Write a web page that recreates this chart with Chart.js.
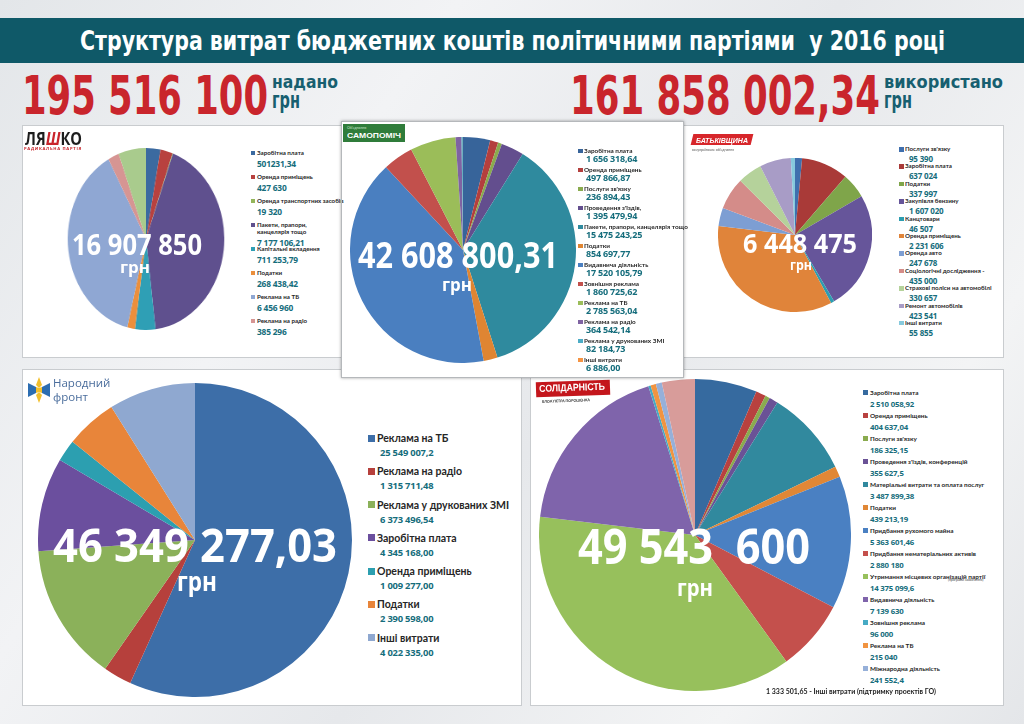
<!DOCTYPE html>
<html lang="uk">
<head>
<meta charset="utf-8">
<title>Структура витрат бюджетних коштів політичними партіями у 2016 році</title>
<script src="https://cdn.jsdelivr.net/npm/chart.js@4.4.1/dist/chart.umd.min.js"></script>
<style>
  html, body { margin: 0; padding: 0; }
  body { width: 1024px; height: 724px; overflow: hidden; }
  #page {
    position: relative; width: 1024px; height: 724px; overflow: hidden;
    background: linear-gradient(125deg, #e3e6e9 0%, #f2f3f5 30%, #e6e8eb 55%, #f3f4f5 80%, #e4e6e9 100%);
    font-family: Lato, "Open Sans", sans-serif;
  }
  .abs { position: absolute; }
  .fit { position: absolute; display: inline-block; white-space: pre; transform-origin: 0 0; line-height: 1; }
  .narrow { font-family: "Liberation Sans Narrow", "DejaVu Sans Condensed", sans-serif; font-weight: 700; }
  .big { font-family: "Open Sans", Lato, sans-serif; font-weight: 700; color: #fff; z-index: 5; }
  .bar { position: absolute; left: 0; top: 18px; width: 1024px; height: 45px; background: #0f5968; }
  .panel { position: absolute; background: #fff; border: 1px solid #c9cccf; box-sizing: border-box; }
  canvas { position: absolute; z-index: 3; }
  .legend { position: absolute; z-index: 4; }
  .legend .item { position: relative; }
  .legend .sw { position: absolute; left: 0; }
  .legend .lab { font-weight: 700; color: #262626; white-space: pre; }
  .legend .val { font-family: "Open Sans", Lato, sans-serif; font-weight: 700; color: #156d7c; white-space: pre; letter-spacing: -0.2px; }
</style>
</head>
<body>
<div id="page">
  <div class="bar"></div>
  <span class="fit narrow" id="title" data-w="865" style="left:80px; top:27px; font-size:27px; color:#fff;">Структура витрат бюджетних коштів політичними партіями  у 2016 році</span>

  <span class="fit narrow" id="given" data-w="246" style="left:22px; top:69px; font-size:53px; color:#c9252c;"></span>
  <span class="fit narrow" data-w="66" style="left:272px; top:73px; font-size:18px; color:#175f70;">надано</span>
  <span class="fit narrow" data-w="28" style="left:272px; top:89px; font-size:23px; color:#175f70;">грн</span>

  <span class="fit narrow" id="used" data-w="310" style="left:570px; top:69px; font-size:53px; color:#c9252c;"></span>
  <span class="fit narrow" data-w="119" style="left:884px; top:73px; font-size:18px; color:#175f70;">використано</span>
  <span class="fit narrow" data-w="28" style="left:884px; top:89px; font-size:23px; color:#175f70;">грн</span>

  <!-- panels -->
  <div class="panel" style="left:22px; top:125px; width:322px; height:233px; z-index:1;"></div>
  <div class="panel" style="left:683px; top:125px; width:321px; height:233px; z-index:1;"></div>
  <div class="panel" style="left:341px; top:121px; width:343px; height:257px; z-index:6; box-shadow: 0 0 3px rgba(0,0,0,0.35); background: transparent; border-color:#b5b8bb;"></div>
  <div class="abs" style="left:341px; top:121px; width:343px; height:257px; z-index:2; background:#fff;"></div>
  <div class="panel" style="left:22px; top:369px; width:500px; height:337px; z-index:1;"></div>
  <div class="panel" style="left:530px; top:369px; width:474px; height:337px; z-index:1;"></div>

  <!-- logos -->
  <span class="fit" data-w="57" style="left:25px; top:127px; z-index:5; font:700 17px 'Open Sans', sans-serif; color:#1d1d1d;">ЛЯ<span style="color:#c9252c; font-style:italic;">Ш</span>КО</span>
  <span class="fit" data-w="58" style="left:24px; top:146px; z-index:5; font:700 3.6px 'Open Sans', sans-serif; color:#c9252c; letter-spacing:0.6px;">РАДИКАЛЬНА ПАРТІЯ</span>

  <div class="abs" style="left:343px; top:124px; width:62px; height:18px; z-index:5; background:#2f7c3a;">
    <div style="position:absolute; left:4px; top:1px; font:400 3.6px Lato, sans-serif; color:#cfe8cf;">Об'єднання</div>
    <span class="fit" data-w="54" style="left:4px; top:7px; font:700 8px 'Liberation Sans Narrow', sans-serif; color:#fff;">САМОПОМІЧ</span>
  </div>

  <div class="abs" style="left:692px; top:134px; width:60px; height:11px; z-index:5; background:#d7262b; transform:skewX(-14deg);"></div>
  <span class="fit" data-w="52" style="left:696px; top:136px; z-index:5; font:italic 700 7.5px 'Liberation Sans Narrow', sans-serif; color:#fff;">БАТЬКІВЩИНА</span>
  <div class="abs" style="left:692px; top:147px; z-index:5; font:400 3.6px Lato, sans-serif; color:#555;">всеукраїнське об'єднання</div>

  <svg class="abs" style="left:27px; top:375px; z-index:5;" width="24" height="30" viewBox="0 0 24 30">
    <path d="M12 2 L15 10 L12 13 L9 10 Z" fill="#f2bf2c"/>
    <path d="M12 28 L15 20 L12 17 L9 20 Z" fill="#f2bf2c"/>
    <path d="M1 8 L9 12 L9 18 L1 22 Z" fill="#2c6db1"/>
    <path d="M23 8 L15 12 L15 18 L23 22 Z" fill="#2c6db1"/>
    <path d="M9 12 L12 13 L15 12 L15 18 L12 17 L9 18 Z" fill="#f2bf2c"/>
  </svg>
  <div class="abs" style="left:53px; top:376px; z-index:5; font:400 11.5px 'Open Sans', sans-serif; color:#4a6d9c; line-height:14px;">Народний<br>фронт</div>

  <div class="abs" style="left:536px; top:381px; width:74px; height:15px; z-index:5; background:#c4161c; transform:rotate(-2deg);"></div>
  <div class="abs" style="left:539px; top:382px; z-index:5; transform:rotate(-2deg);">
    <span class="fit" data-w="66" style="left:0; top:1px; font:700 10px 'Liberation Sans Narrow', sans-serif; color:#fff;">СОЛІДАРНІСТЬ</span>
  </div>
  <div class="abs" style="left:542px; top:398px; z-index:5; font:700 3.6px Lato, sans-serif; color:#222; transform:rotate(-2deg);">БЛОК ПЕТРА ПОРОШЕНКА</div>

  <!-- pies -->
  <div class="abs" style="left:55px; top:148px; width:182px; height:182px; z-index:3; transform:scaleX(0.86); transform-origin:50% 50%;">
    <canvas id="pieLyashko" width="182" height="182" style="left:0; top:0;"></canvas>
  </div>
  <canvas id="pieSamopomich" width="226" height="226" style="left:350px; top:137px;"></canvas>
  <canvas id="pieBatk" width="154" height="154" style="left:718px; top:158px;"></canvas>
  <canvas id="pieNF" width="314" height="314" style="left:38px; top:383px;"></canvas>
  <canvas id="pieSol" width="312" height="312" style="left:539px; top:379px;"></canvas>

  <!-- totals over pies -->
  <span class="fit big" id="totLyashko" data-w="130" style="left:72px; top:229px; font-size:29px;"></span>
  <span class="fit big" data-w="30" style="left:120px; top:259px; font-size:16px;">грн</span>
  <span class="fit big" id="totSamopomich" data-w="200" style="left:358px; top:237px; font-size:36px; z-index:7;"></span>
  <span class="fit big" data-w="30" style="left:442px; top:275px; font-size:18px; z-index:7;">грн</span>
  <span class="fit big" id="totBatk" data-w="114" style="left:743px; top:230px; font-size:26px;"></span>
  <span class="fit big" data-w="22" style="left:790px; top:257px; font-size:15px;">грн</span>
  <span class="fit big" id="totNF" data-w="284" style="left:53px; top:521px; font-size:47px;"></span>
  <span class="fit big" data-w="40" style="left:177px; top:568px; font-size:26px;">грн</span>
  <span class="fit big" id="totSol" data-w="232" style="left:578px; top:521px; font-size:49px;"></span>
  <span class="fit big" data-w="36" style="left:677px; top:575px; font-size:24px;">грн</span>

  <!-- legends -->
  <div class="legend" id="legLyashko" style="left:251px; top:149px;"></div>
  <div class="legend" id="legSamopomich" style="left:578px; top:147px; z-index:7;"></div>
  <div class="legend" id="legBatk" style="left:899px; top:146px;"></div>
  <div class="legend" id="legNF" style="left:368px; top:432px;"></div>
  <div class="legend" id="legSol" style="left:863px; top:389px;"></div>

  <div class="abs" style="left:948px; top:578px; z-index:5; font:400 3.4px Lato, sans-serif; color:#444;">(програми заохочення)</div>
  <div class="abs" id="solNote" style="left:766px; top:687px; z-index:5; font:700 7px Lato, sans-serif; color:#222; white-space:pre;"></div>
</div>

<script>
const totalGiven = '195 516 100';
const totalUsed = '161 858 002,34';

// Радикальна партія Ляшка
const lyashkoTotal = '16 907 850';
const lyashkoLabels = ['Заробітна плата', 'Оренда приміщень', 'Оренда транспортних засобів', 'Пакети, прапори,\nканцелярія тощо',
  'Капітальні вкладення', 'Податки', 'Реклама на ТБ', 'Реклама на радіо', 'Інші витрати'];
const lyashkoValues = [501231.34, 427630, 19320, 7177106.21, 711253.79, 268438.42, 6456960, 385296, 960614];
const lyashkoText = ['501231,34', '427 630', '19 320', '7 177 106,21', '711 253,79', '268 438,42', '6 456 960', '385 296'];

// Самопоміч
const samopomichTotal = '42 608 800,31';
const samopomichLabels = ['Заробітна плата', 'Оренда приміщень', "Послуги зв'язку", "Проведення з'їздів,",
  'Пакети, прапори, канцелярія тощо', 'Податки', 'Видавнича діяльність', 'Зовнішня реклама',
  'Реклама на ТБ', 'Реклама на радіо', 'Реклама у друкованих ЗМІ', 'Інші витрати'];
const samopomichValues = [1656318.64, 497866.87, 236894.43, 1395479.94, 15475243.25, 854697.77,
  17520105.79, 1860725.62, 2785563.04, 364542.14, 82184.73, 6886.00];
const samopomichText = ['1 656 318,64', '497 866,87', '236 894,43', '1 395 479,94', '15 475 243,25', '854 697,77',
  '17 520 105,79', '1 860 725,62', '2 785 563,04', '364 542,14', '82 184,73', '6 886,00'];

// Батьківщина
const batkTotal = '6 448 475';
const batkLabels = ["Послуги зв'язку", 'Заробітна плата', 'Податки', 'Закупівля бензину', 'Канцтовари',
  'Оренда приміщень', 'Оренда авто', 'Соціологічні дослідження -', 'Страхові поліси на автомобілі',
  'Ремонт автомобілів', 'Інші витрати'];
const batkValues = [95390, 637024, 337997, 1607020, 46507, 2231606, 247678, 435000, 330657, 423541, 55855];
const batkText = ['95 390', '637 024', '337 997', '1 607 020', '46 507', '2 231 606', '247 678', '435 000',
  '330 657', '423 541', '55 855'];

// Народний фронт
const nfTotal = '46 349 277,03';
const nfLabels = ['Реклама на ТБ', 'Реклама на радіо', 'Реклама у друкованих ЗМІ', 'Заробітна плата',
  'Оренда приміщень', 'Податки', 'Інші витрати'];
const nfValues = [25549007.2, 1315711.48, 6373496.54, 4345168.00, 1009277.00, 2390598.00, 4022335.00];
const nfText = ['25 549 007,2', '1 315 711,48', '6 373 496,54', '4 345 168,00', '1 009 277,00', '2 390 598,00', '4 022 335,00'];

// Солідарність
const solTotal = '49 543  600';
const solLabels = ['Заробітна плата', 'Оренда приміщень', "Послуги зв'язку", "Проведення з'їздів, конференцій",
  'Матеріальні витрати та оплата послуг', 'Податки', 'Придбання рухомого майна',
  'Придбання нематеріальних активів', 'Утримання місцевих організацій партії', 'Видавнича діяльність',
  'Зовнішня реклама', 'Реклама на ТБ', 'Міжнародна діяльність', 'Інші витрати (підтримку проектів ГО)'];
const solValues = [2510058.92, 404637.04, 186325.15, 355627.5, 3487899.38, 439213.19, 5363601.46,
  2880180, 14375099.6, 7139630, 96000, 215040, 241552.4, 1333501.65];
const solText = ['2 510 058,92', '404 637,04', '186 325,15', '355 627,5', '3 487 899,38', '439 213,19',
  '5 363 601,46', '2 880 180', '14 375 099,6', '7 139 630', '96 000', '215 040', '241 552,4', '1 333 501,65'];

const PALETTES = {
  lyashko: ['#3b6aa0', '#b8413f', '#93b55a', '#5f508e', '#2f9fb5', '#eb8f3c', '#8fa7d3', '#d69593', '#a9cb8d'],
  samopomich: ['#37649a', '#b43f3d', '#8aab4e', '#634e8e', '#2f8a9e', '#df8532', '#4a7fc0', '#c2504c',
    '#9bbd59', '#7f63a2', '#4bacc6', '#f59443'],
  batk: ['#3f6fae', '#a93a38', '#7fa54a', '#66559a', '#2d9db0', '#e0843a', '#7d9ed3', '#d48c89',
    '#b5d29b', '#a89cc6', '#86c9dd'],
  nf: ['#3d6ea8', '#b6403c', '#8bb15a', '#6b4f9e', '#2c9fb0', '#e8853a', '#8fa8d0'],
  sol: ['#366a9f', '#b8413f', '#8aab4e', '#6a5296', '#31899e', '#e08736', '#4a80c2', '#c4504c',
    '#97c05c', '#7f64ab', '#46aac4', '#f19441', '#96b0d9', '#d89c9a'],
};

function renderPie(canvasId, labels, values, colors) {
  new Chart(document.getElementById(canvasId), {
    type: 'pie',
    data: {
      labels,
      datasets: [{ data: values, backgroundColor: colors, borderWidth: 0, hoverOffset: 0 }],
    },
    options: {
      responsive: false,
      animation: false,
      events: [],
      layout: { padding: 0 },
      plugins: { legend: { display: false }, tooltip: { enabled: false } },
    },
  });
}

/**
 * HTML legend: colour square, label, value underneath
 */
function renderLegend(boxId, labels, texts, colors, st) {
  const box = document.getElementById(boxId);
  texts.forEach((t, i) => {
    const item = document.createElement('div');
    item.className = 'item';
    item.style.height = st.pitch + 'px';
    item.style.paddingLeft = st.indent + 'px';
    item.innerHTML =
      `<div class="sw" style="background:${colors[i]};width:${st.sw}px;height:${st.sw}px;top:${st.swTop}px"></div>` +
      `<div class="lab" style="font-size:${st.lab}px;line-height:${st.labLh}px">${labels[i]}</div>` +
      `<div class="val" style="font-size:${st.val}px;line-height:${st.valLh}px;margin-top:${st.gap}px;padding-left:${st.valIndent}px">${t}</div>`;
    box.appendChild(item);
  });
}

function fitAll() {
  document.querySelectorAll('.fit[data-w]').forEach(el => {
    const w = el.getBoundingClientRect().width;
    const target = +el.dataset.w;
    if (w > 0) el.style.transform = `scaleX(${target / w})`;
  });
}

document.getElementById('given').textContent = totalGiven;
document.getElementById('used').textContent = totalUsed;
document.getElementById('totLyashko').textContent = lyashkoTotal;
document.getElementById('totSamopomich').textContent = samopomichTotal;
document.getElementById('totBatk').textContent = batkTotal;
document.getElementById('totNF').textContent = nfTotal;
document.getElementById('totSol').textContent = solTotal;
document.getElementById('solNote').textContent =
  solText[solText.length - 1] + ' - ' + solLabels[solLabels.length - 1];

renderPie('pieLyashko', lyashkoLabels, lyashkoValues, PALETTES.lyashko);
renderPie('pieSamopomich', samopomichLabels, samopomichValues, PALETTES.samopomich);
renderPie('pieBatk', batkLabels, batkValues, PALETTES.batk);
renderPie('pieNF', nfLabels, nfValues, PALETTES.nf);
renderPie('pieSol', solLabels, solValues, PALETTES.sol);

renderLegend('legLyashko', lyashkoLabels, lyashkoText, PALETTES.lyashko,
  { pitch: 24, indent: 6, sw: 4, swTop: 1.5, lab: 6.2, labLh: 7, val: 8.4, valLh: 11, gap: 2, valIndent: 0 });
renderLegend('legSamopomich', samopomichLabels, samopomichText, PALETTES.samopomich,
  { pitch: 19, indent: 6, sw: 4.5, swTop: 1.5, lab: 6.4, labLh: 7, val: 9, valLh: 10, gap: -0.5, valIndent: 2 });
renderLegend('legBatk', batkLabels, batkText, PALETTES.batk,
  { pitch: 17.4, indent: 6, sw: 4.5, swTop: 1, lab: 6.2, labLh: 6.5, val: 8, valLh: 9, gap: 1.5, valIndent: 4 });
renderLegend('legNF', nfLabels, nfText, PALETTES.nf,
  { pitch: 33.3, indent: 9, sw: 7, swTop: 2.5, lab: 10.5, labLh: 12, val: 9.4, valLh: 12, gap: 3, valIndent: 3 });
renderLegend('legSol', solLabels.slice(0, 13), solText.slice(0, 13), PALETTES.sol,
  { pitch: 23, indent: 7, sw: 5, swTop: 1, lab: 6.4, labLh: 7, val: 7.8, valLh: 10, gap: 3, valIndent: 0 });

fitAll();
</script>
</body>
</html>
